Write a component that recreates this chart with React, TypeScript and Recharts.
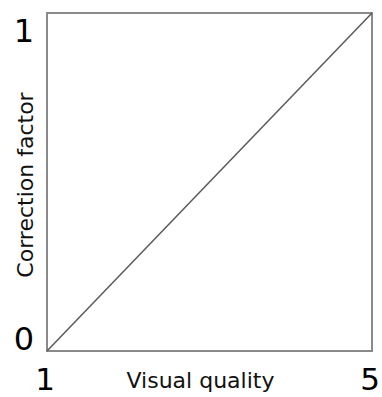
import React from 'react';
import { LineChart, Line, XAxis, YAxis, ReferenceArea } from 'recharts';

const visualQuality = [1, 5];
const correctionFactor = [0, 1];
const xTicks = [1, 5];
const yTicks = [0, 1];
const xTitle = 'Visual quality';
const yTitle = 'Correction factor';

const data = visualQuality.map((v, i) => ({ x: v, y: correctionFactor[i] }));

const FONT = 'DejaVu Sans, sans-serif';

const XTick = (props: any) => {
  const { x, payload } = props;
  return (
    <text x={x - 2} y={389.5} textAnchor="middle" fontFamily={FONT} fontSize={31} fill="#000">
      {payload.value}
    </text>
  );
};

const YTick = (props: any) => {
  const { y, payload } = props;
  const baseline = payload.value === 1 ? y + 29 : y - 1;
  return (
    <text x={24} y={baseline} textAnchor="middle" fontFamily={FONT} fontSize={32} fill="#000">
      {payload.value}
    </text>
  );
};

const XTitle = (props: any) => {
  const vb = props.viewBox || {};
  return (
    <text x={vb.x + vb.width / 2 - 9} y={388} textAnchor="middle" fontFamily={FONT} fontSize={22} fill="#111">
      {xTitle}
    </text>
  );
};

const YTitle = (props: any) => {
  const vb = props.viewBox || {};
  const cy = vb.y + vb.height / 2 + 3;
  return (
    <text x={33} y={cy} transform={`rotate(-90, 33, ${cy})`} textAnchor="middle" fontFamily={FONT} fontSize={22} fill="#111">
      {yTitle}
    </text>
  );
};

export default function App() {
  return (
    <div style={{ position: 'absolute', left: 0, top: 0, background: '#fff' }}>
      <LineChart width={382} height={397} data={data} margin={{ top: 13, right: 10, left: 0, bottom: 0 }}>
        <XAxis
          dataKey="x"
          type="number"
          domain={[1, 5]}
          ticks={xTicks}
          height={46}
          axisLine={false}
          tickLine={false}
          tick={<XTick />}
          label={<XTitle />}
        />
        <YAxis
          dataKey="y"
          type="number"
          domain={[0, 1]}
          ticks={yTicks}
          width={47}
          axisLine={false}
          tickLine={false}
          tick={<YTick />}
          label={<YTitle />}
        />
        <ReferenceArea x1={1} x2={5} y1={0} y2={1} fill="none" fillOpacity={0} stroke="#8a8a8a" strokeWidth={2} ifOverflow="visible" />
        <Line dataKey="y" type="linear" stroke="#5a5a5a" strokeWidth={1.5} dot={false} isAnimationActive={false} />
      </LineChart>
    </div>
  );
}
